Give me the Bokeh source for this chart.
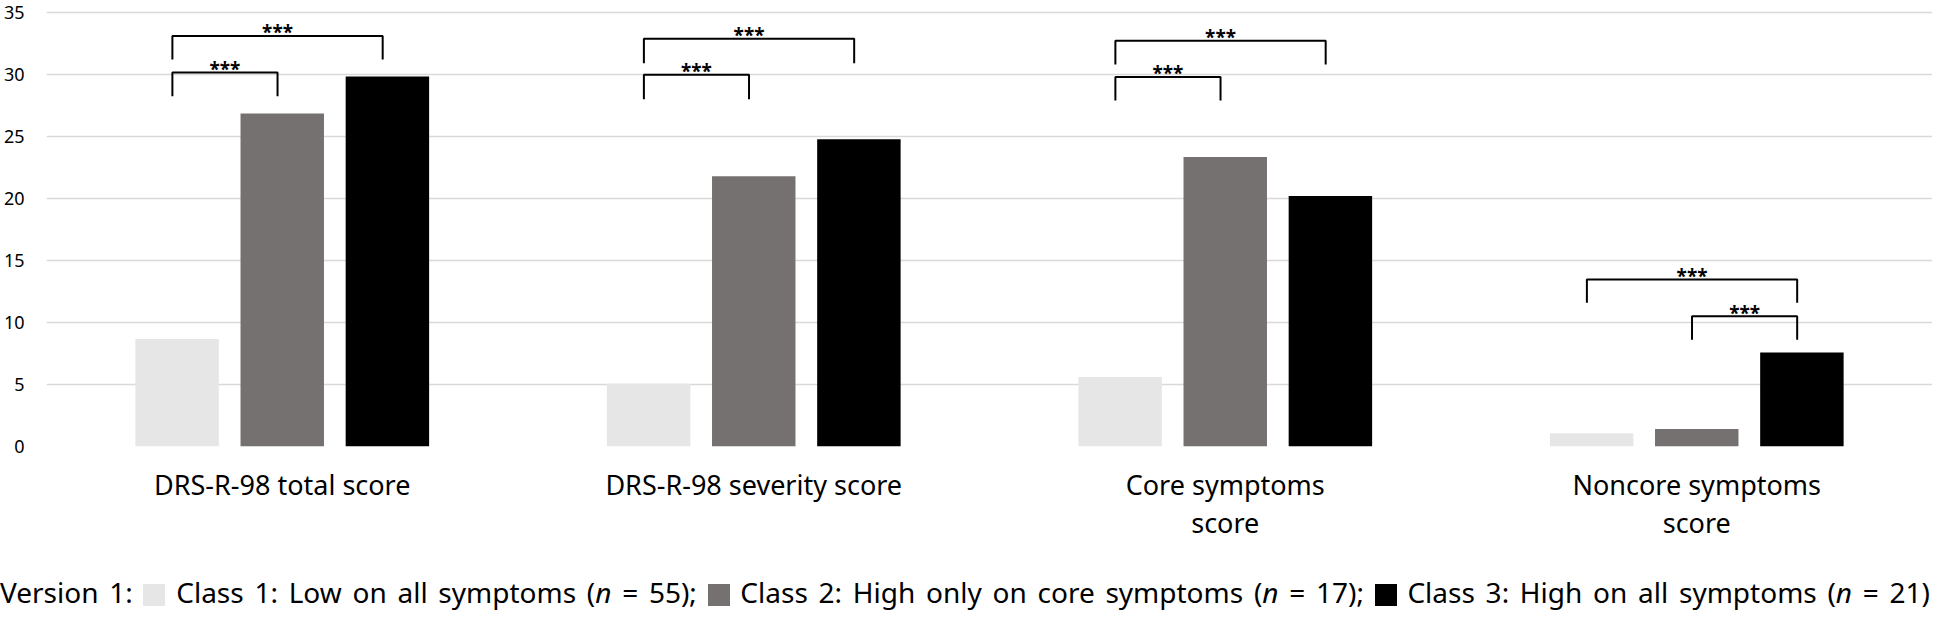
from bokeh.plotting import figure
from bokeh.models import Range1d, FactorRange, FixedTicker, ColumnDataSource, Div
from bokeh.transform import dodge
from bokeh.layouts import column
from bokeh.core.properties import value
from bokeh.embed import file_html
from bokeh.resources import INLINE

# ---------------- data ----------------
categories = ["DRS-R-98 total score", "DRS-R-98 severity score",
              "Core symptoms\nscore", "Noncore symptoms\nscore"]
class1 = [8.67, 5.07, 5.60, 1.07]
class2 = [26.86, 21.80, 23.34, 1.42]
class3 = [29.84, 24.78, 20.20, 7.58]
y_ticks = [0, 5, 10, 15, 20, 25, 30, 35]

legend_prefix = "Version 1:"
class_labels = ["Class 1: Low on all symptoms", "Class 2: High only on core symptoms",
                "Class 3: High on all symptoms"]
class_n = [55, 17, 21]

# significance brackets: category index, class a, class b, top, leg bottom
sig_cat = [0, 0, 1, 1, 2, 2, 3, 3]
sig_a = [0, 0, 0, 0, 0, 0, 0, 1]
sig_b = [1, 2, 1, 2, 1, 2, 2, 2]
sig_top = [30.16, 33.10, 29.98, 32.88, 29.80, 32.72, 13.47, 10.50]
sig_bottom = [28.24, 31.20, 28.00, 30.90, 27.90, 30.80, 11.60, 8.60]
sig_text = ["***"] * 8

# ---------------- style ----------------
colors = ["#E7E6E6", "#767171", "#000000"]
offsets = [-0.223, 0.0, 0.223]
bar_w = 0.177
FONT = "Noto Sans"

FRAME_W = 1886
FRAME_H = 442
TOP = 4
BOTTOM = 100
H_LEG = 66

p = figure(frame_width=FRAME_W, frame_height=FRAME_H, x_range=FactorRange(factors=categories),
           y_range=Range1d(0, 35.645), output_backend="svg", toolbar_location=None,
           min_border_left=44, min_border_right=0, min_border_top=TOP, min_border_bottom=BOTTOM)
p.outline_line_color = None
p.background_fill_color = "white"
p.border_fill_color = "white"

src = ColumnDataSource(dict(cat=categories, c1=class1, c2=class2, c3=class3))
for k, col in enumerate(["c1", "c2", "c3"]):
    p.vbar(x=dodge("cat", offsets[k], range=p.x_range), top=col, width=bar_w, bottom=0,
           source=src, fill_color=colors[k], line_color=None)

# brackets
xs, ys, tx, ty = [], [], [], []
shift = -0.01
for i in range(len(sig_cat)):
    c = sig_cat[i] + 0.5
    xa = c + offsets[sig_a[i]] + shift
    xb = c + offsets[sig_b[i]] + shift
    xs.append([xa, xa, xb, xb])
    ys.append([sig_bottom[i], sig_top[i], sig_top[i], sig_bottom[i]])
    tx.append((xa + xb) / 2)
    ty.append(sig_top[i] + 0.3)
p.multi_line(xs=xs, ys=ys, line_color="black", line_width=2)
p.text(x=tx, y=ty, text=sig_text, text_font=value(FONT), text_font_size="19px",
       text_font_style="bold", text_align="center", text_baseline="alphabetic", text_color="black")

# axes / grid
p.xgrid.visible = False
p.yaxis.ticker = FixedTicker(ticks=y_ticks)
p.ygrid.grid_line_color = "#D9D9D9"
p.ygrid.grid_line_width = 1.3
for ax in (p.xaxis[0], p.yaxis[0]):
    ax.axis_line_color = None
    ax.major_tick_line_color = None
    ax.minor_tick_line_color = None
    ax.major_tick_in = 0
    ax.major_tick_out = 0
    ax.major_label_text_font = FONT
    ax.major_label_text_color = "black"
p.yaxis.major_label_text_font_size = "18px"
p.yaxis.major_label_standoff = 22
p.xaxis.major_label_text_font_size = "27px"
p.xaxis.major_label_standoff = 19
p.xaxis.major_label_text_line_height = 1.035

# ---------------- legend (justified line, like the reference) ----------------
def swatch(c):
    return ('<span style="display:inline-block;width:22px;height:22px;background:%s;'
            'vertical-align:-3px;"></span>' % c)


parts = [legend_prefix]
for k, lab in enumerate(class_labels):
    tail = ";" if k < len(class_labels) - 1 else ""
    parts.append(swatch(colors[k]))
    parts.append("%s (<i>n</i> = %d)%s" % (lab, class_n[k], tail))
legend_html = (
    '<div style="width:1930px;margin:0;padding:28px 0 0 0;font-family:\'Noto Sans\';'
    'font-size:28px;line-height:37px;color:#000;text-align:justify;'
    'text-align-last:justify;">' + " ".join(parts) + "</div>"
)
leg = Div(text=legend_html, width=1930, height=H_LEG, styles={"margin": "0", "padding": "0"})

layout = column(p, leg, spacing=0)
open("out.html", "w").write(file_html(layout, INLINE))
